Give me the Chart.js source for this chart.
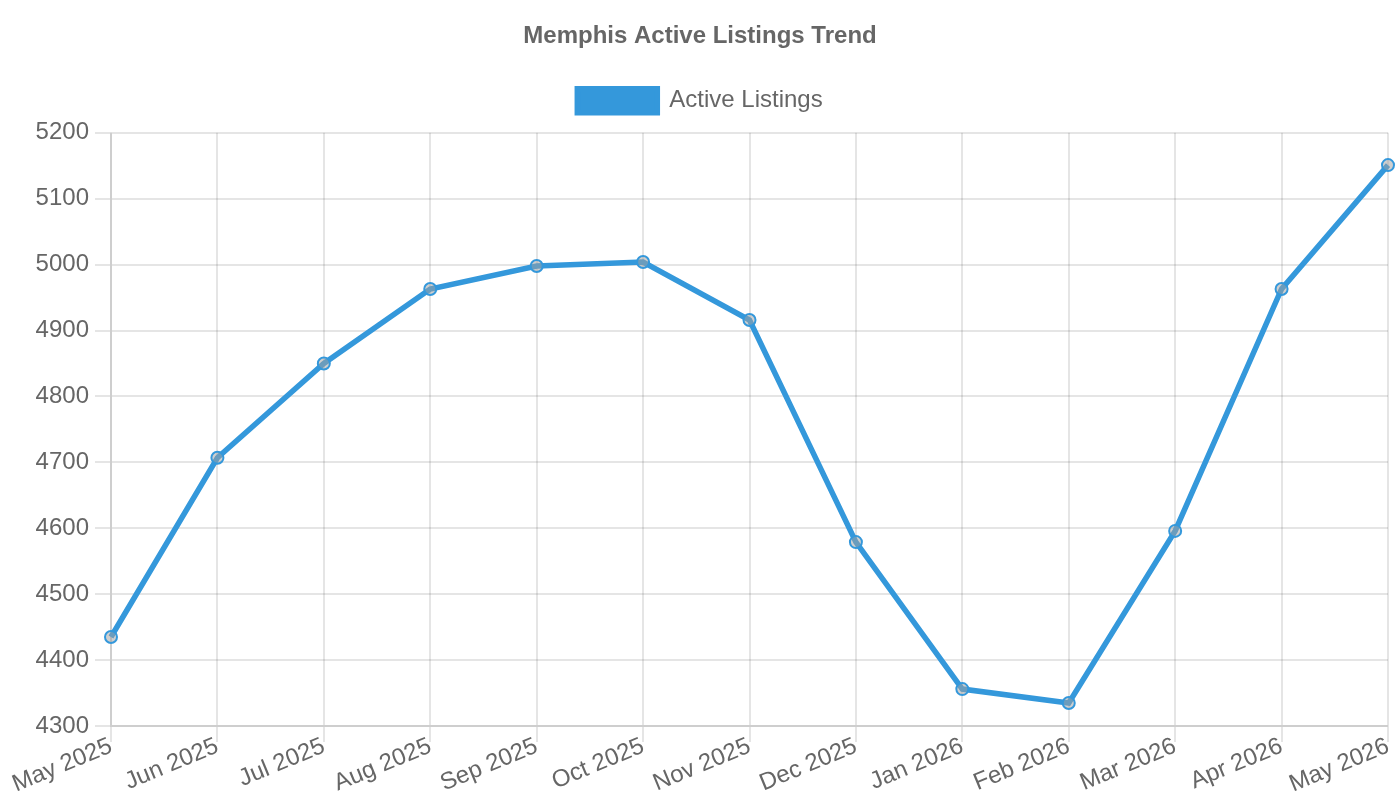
<!DOCTYPE html>
<html>
<head>
<meta charset="utf-8">
<script src="https://cdn.jsdelivr.net/npm/chart.js@4/dist/chart.umd.min.js"></script>
<style>
  html, body { margin: 0; padding: 0; background: #fff; }
  #c { display: block; width: 1400px !important; height: 800px !important; }
</style>
</head>
<body>
<canvas id="c" width="700" height="400"></canvas>
<script>
const categories = ["May 2025","Jun 2025","Jul 2025","Aug 2025","Sep 2025","Oct 2025","Nov 2025","Dec 2025","Jan 2026","Feb 2026","Mar 2026","Apr 2026","May 2026"];
const activeListings = [4435, 4707, 4850, 4963, 4998, 5004, 4916, 4579, 4356, 4335, 4596, 4963, 5151];
const yMin = 4300, yMax = 5200, yStep = 100;
const chartTitle = "Memphis Active Listings Trend";
const seriesName = "Active Listings";

Chart.defaults.font.family = "'Liberation Sans', Arial, sans-serif";
new Chart(document.getElementById('c'), {
  type: 'line',
  data: {
    labels: categories,
    datasets: [{
      label: seriesName,
      data: activeListings,
      borderColor: '#3498db',
      backgroundColor: '#3498db',
      borderWidth: 2.75,
      pointRadius: 3,
      pointBorderWidth: 1,
      pointBackgroundColor: 'rgba(160,160,160,0.5)',
      pointBorderColor: '#3498db',
      fill: false,
      tension: 0
    }]
  },
  options: {
    responsive: false,
    animation: false,
    devicePixelRatio: 2,
    plugins: {
      title: { display: true, text: chartTitle, padding: { top: 11, bottom: 9 } },
      legend: { display: true },
      tooltip: { enabled: false }
    },
    scales: {
      x: {
        ticks: { padding: -5 },
        afterFit: (axis) => { axis.height = 37; axis.paddingLeft = 0; axis.paddingRight = 6; }
      },
      y: {
        min: yMin,
        max: yMax,
        ticks: { stepSize: yStep, callback: (v) => String(v) },
        afterFit: (axis) => { axis.width = 55.5; }
      }
    }
  }
});
</script>
</body>
</html>
